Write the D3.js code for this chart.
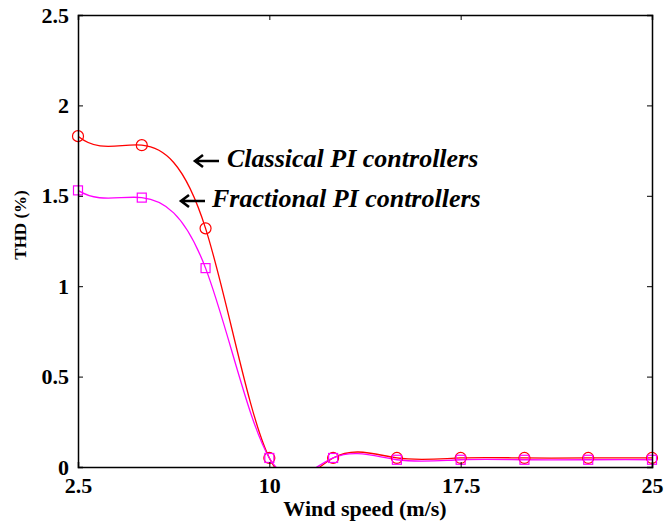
<!DOCTYPE html>
<html>
<head>
<meta charset="utf-8">
<script src="https://cdn.jsdelivr.net/npm/d3@7"></script>
<style>
  html, body { margin: 0; padding: 0; background: #fff; }
</style>
</head>
<body>
<svg id="chart" width="666" height="529"></svg>
<script>
// Wind speed samples (m/s)
const windSpeed = [2.5, 5, 7.5, 10, 12.5, 15, 17.5, 20, 22.5, 25];
// THD (%) with classical PI controllers
const thdClassical = [1.83, 1.78, 1.32, 0.05, 0.05, 0.05, 0.05, 0.05, 0.05, 0.05];
// THD (%) with fractional PI controllers
const thdFractional = [1.53, 1.49, 1.10, 0.05, 0.05, 0.04, 0.04, 0.04, 0.04, 0.04];

const xTicks = [2.5, 10, 17.5, 25];
const yTicks = [0, 0.5, 1, 1.5, 2, 2.5];

const SERIF = "Liberation Serif, Times New Roman, DejaVu Serif, serif";

const margin = { left: 78, top: 15, right: 14, bottom: 62 };
const W = 666, H = 529;
const iw = W - margin.left - margin.right;
const ih = H - margin.top - margin.bottom;

const svg = d3.select("#chart");
const g = svg.append("g").attr("transform", `translate(${margin.left},${margin.top})`);

const x = d3.scaleLinear().domain([2.5, 25]).range([0, iw]);
const y = d3.scaleLinear().domain([0, 2.5]).range([ih, 0]);

// Not-a-knot cubic spline as a d3 curve
function curveSplineNAK(context) {
  let xs = [], ys = [];
  return {
    areaStart() {}, areaEnd() {},
    lineStart() { xs = []; ys = []; },
    point(px, py) { xs.push(+px); ys.push(+py); },
    lineEnd() {
      const n = xs.length;
      if (n === 0) return;
      context.moveTo(xs[0], ys[0]);
      if (n < 4) { for (let i = 1; i < n; i++) context.lineTo(xs[i], ys[i]); return; }
      const h = [];
      for (let i = 0; i < n - 1; i++) h.push(xs[i + 1] - xs[i]);
      const A = Array.from({ length: n }, () => new Array(n).fill(0));
      const b = new Array(n).fill(0);
      A[0][0] = h[1]; A[0][1] = -(h[0] + h[1]); A[0][2] = h[0];
      for (let i = 1; i < n - 1; i++) {
        A[i][i - 1] = h[i - 1];
        A[i][i] = 2 * (h[i - 1] + h[i]);
        A[i][i + 1] = h[i];
        b[i] = 6 * ((ys[i + 1] - ys[i]) / h[i] - (ys[i] - ys[i - 1]) / h[i - 1]);
      }
      const m = n - 1;
      A[m][m - 2] = h[m - 1]; A[m][m - 1] = -(h[m - 2] + h[m - 1]); A[m][m] = h[m - 2];
      for (let c = 0; c < n; c++) {
        let p = c;
        for (let r = c + 1; r < n; r++) if (Math.abs(A[r][c]) > Math.abs(A[p][c])) p = r;
        [A[c], A[p]] = [A[p], A[c]]; [b[c], b[p]] = [b[p], b[c]];
        for (let r = c + 1; r < n; r++) {
          const f = A[r][c] / A[c][c];
          if (!f) continue;
          for (let k = c; k < n; k++) A[r][k] -= f * A[c][k];
          b[r] -= f * b[c];
        }
      }
      const M = new Array(n).fill(0);
      for (let r = n - 1; r >= 0; r--) {
        let s = b[r];
        for (let k = r + 1; k < n; k++) s -= A[r][k] * M[k];
        M[r] = s / A[r][r];
      }
      const d = [];
      for (let i = 0; i < n - 1; i++) d.push((ys[i + 1] - ys[i]) / h[i] - h[i] * (2 * M[i] + M[i + 1]) / 6);
      d.push((ys[m] - ys[m - 1]) / h[m - 1] + h[m - 1] * (M[m - 1] + 2 * M[m]) / 6);
      for (let i = 0; i < n - 1; i++) {
        context.bezierCurveTo(
          xs[i] + h[i] / 3, ys[i] + h[i] * d[i] / 3,
          xs[i + 1] - h[i] / 3, ys[i + 1] - h[i] * d[i + 1] / 3,
          xs[i + 1], ys[i + 1]);
      }
    }
  };
}

svg.append("defs").append("clipPath").attr("id", "plotClip")
  .append("rect").attr("width", iw).attr("height", ih);

const line = d3.line().x(d => x(d[0])).y(d => y(d[1])).curve(curveSplineNAK);

const series = [
  { values: thdClassical, color: "#ff0000", marker: "circle" },
  { values: thdFractional, color: "#ff00ff", marker: "square" }
];

const plot = g.append("g").attr("clip-path", "url(#plotClip)");
series.forEach(s => {
  const pts = windSpeed.map((w, i) => [w, s.values[i]]);
  plot.append("path").datum(pts)
    .attr("d", line)
    .attr("fill", "none")
    .attr("stroke", s.color)
    .attr("stroke-width", 1.3);
});

series.forEach(s => {
  const pts = windSpeed.map((w, i) => [w, s.values[i]]);
  const mg = g.append("g");
  if (s.marker === "circle") {
    mg.selectAll("circle").data(pts).join("circle")
      .attr("cx", d => x(d[0])).attr("cy", d => y(d[1])).attr("r", 5.5)
      .attr("fill", "none").attr("stroke", s.color).attr("stroke-width", 1.2);
  } else {
    mg.selectAll("rect").data(pts).join("rect")
      .attr("x", d => x(d[0]) - 4.5).attr("y", d => y(d[1]) - 4.5)
      .attr("width", 9).attr("height", 9)
      .attr("fill", "none").attr("stroke", s.color).attr("stroke-width", 1.2);
  }
});

// Axes (ticks inside, mirrored on the opposite sides)
const axB = g.append("g").attr("transform", `translate(0,${ih})`)
  .call(d3.axisBottom(x).tickValues(xTicks).tickSize(-5).tickPadding(10).tickFormat(d3.format("~g")));
const axT = g.append("g")
  .call(d3.axisTop(x).tickValues(xTicks).tickSize(-5).tickFormat(""));
const axL = g.append("g")
  .call(d3.axisLeft(y).tickValues(yTicks).tickSize(-5).tickPadding(9).tickFormat(d3.format("~g")));
const axR = g.append("g").attr("transform", `translate(${iw},0)`)
  .call(d3.axisRight(y).tickValues(yTicks).tickSize(-5).tickFormat(""));

[axB, axT, axL, axR].forEach(a => {
  a.attr("font-family", SERIF).attr("font-size", 22).attr("font-weight", "bold");
  a.select(".domain").attr("stroke", "#000").attr("stroke-width", 1.5);
  a.selectAll(".tick line").attr("stroke", "#000").attr("stroke-width", 1);
  a.selectAll(".tick text").attr("fill", "#000");
});

// Axis titles
svg.append("text")
  .attr("x", 365).attr("y", 516)
  .attr("text-anchor", "middle")
  .attr("font-family", SERIF).attr("font-size", 22).attr("font-weight", "bold")
  .text("Wind speed (m/s)");

svg.append("text")
  .attr("transform", "translate(26,225) rotate(-90)")
  .attr("text-anchor", "middle")
  .attr("font-family", SERIF).attr("font-size", 17).attr("font-weight", "bold")
  .text("THD (%)");

// Annotations with left-pointing arrows
const annotations = [
  { text: "Classical PI controllers", x: 227, y: 167, ax: 195, ay: 161 },
  { text: "Fractional PI controllers", x: 212, y: 207, ax: 181, ay: 201 }
];
const notes = svg.selectAll("g.note").data(annotations).join("g").attr("class", "note");
notes.append("text")
  .attr("x", d => d.x).attr("y", d => d.y)
  .attr("font-family", SERIF).attr("font-size", 26)
  .attr("font-weight", "bold").attr("font-style", "italic")
  .text(d => d.text);
notes.append("path")
  .attr("d", d => `M${d.ax + 24},${d.ay}H${d.ax + 1}M${d.ax + 8},${d.ay - 6}L${d.ax},${d.ay}L${d.ax + 8},${d.ay + 6}`)
  .attr("fill", "none").attr("stroke", "#000").attr("stroke-width", 2.6);
</script>
</body>
</html>
